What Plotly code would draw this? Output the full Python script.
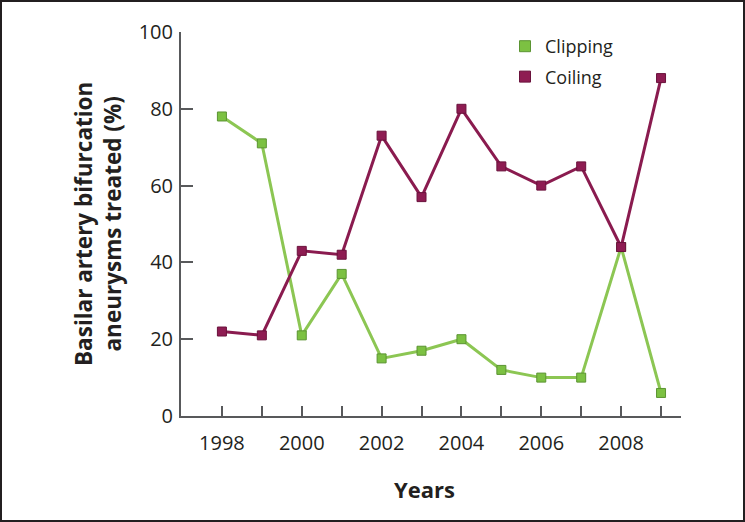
import plotly.graph_objects as go

years = [1998, 1999, 2000, 2001, 2002, 2003, 2004, 2005, 2006, 2007, 2008, 2009]
clipping = [78, 71, 21, 37, 15, 17, 20, 12, 10, 10, 44, 6]
coiling = [22, 21, 43, 42, 73, 57, 80, 65, 60, 65, 44, 88]
tick_years = years
tick_text = [str(y) if y % 2 == 0 else "" for y in years]
y_ticks = [0, 20, 40, 60, 80, 100]

green_line = "#8cc653"
green_fill = "#7cc142"
green_edge = "#5b9432"
purple_line = "#8a1b4f"
purple_fill = "#8e1c52"
purple_edge = "#6a123c"

fig = go.Figure()
fig.add_trace(go.Scatter(
    x=years, y=clipping, mode="lines+markers", name="Clipping", showlegend=False,
    line=dict(color=green_line, width=3),
    marker=dict(symbol="square", size=9, color=green_fill, line=dict(color=green_edge, width=1)),
))
fig.add_trace(go.Scatter(
    x=years, y=coiling, mode="lines+markers", name="Coiling", showlegend=False,
    line=dict(color=purple_line, width=3),
    marker=dict(symbol="square", size=9, color=purple_fill, line=dict(color=purple_edge, width=1)),
))
# legend entries (square markers only)
fig.add_trace(go.Scatter(
    x=[None], y=[None], mode="markers", name="Clipping", legendgroup="a",
    marker=dict(symbol="square", size=11, color=green_fill, line=dict(color=green_edge, width=1)),
))
fig.add_trace(go.Scatter(
    x=[None], y=[None], mode="markers", name="Coiling", legendgroup="b",
    marker=dict(symbol="square", size=11, color=purple_fill, line=dict(color=purple_edge, width=1)),
))

L, R, T, B = 181, 64, 32, 106
W, H = 745, 522
pw, ph = W - L - R, H - T - B

fig.update_layout(
    width=W, height=H,
    margin=dict(l=L, r=R, t=T, b=B),
    paper_bgcolor="white", plot_bgcolor="white",
    font=dict(family="Open Sans", color="#231f20"),
    legend=dict(
        x=(505 - L) / pw, y=1 - (28 - T) / ph, xanchor="left", yanchor="top",
        font=dict(size=18, color="#231f20"), tracegroupgap=4,
        bgcolor="rgba(0,0,0,0)",
    ),
    xaxis=dict(
        range=[1996.975, 2009.5], tickvals=tick_years, ticktext=tick_text,
        showline=True, linecolor="#58595b", linewidth=2,
        ticks="inside", ticklen=10, tickwidth=1.5, tickcolor="#58595b",
        tickfont=dict(size=20, color="#231f20"), ticklabelstandoff=8,
        showgrid=False, zeroline=False, fixedrange=True,
    ),
    yaxis=dict(
        range=[0, 100], tickvals=y_ticks,
        showline=True, linecolor="#58595b", linewidth=2,
        ticks="inside", ticklen=12, tickwidth=1.5, tickcolor="#58595b",
        tickfont=dict(size=20, color="#231f20"), ticklabelstandoff=2,
        showgrid=False, zeroline=False, fixedrange=True,
    ),
    annotations=[
        dict(text="Years", xref="paper", yref="paper",
             x=(424 - L) / pw, y=-(489 - (T + ph)) / ph,
             xanchor="center", yanchor="middle", showarrow=False,
             font=dict(size=22, color="#231f20", family="Open Sans", weight="bold")),
        dict(text="Basilar artery bifurcation<br>aneurysms treated (%)",
             xref="paper", yref="paper",
             x=(98 - L) / pw, y=0.5, textangle=-90,
             xanchor="center", yanchor="middle", showarrow=False,
             font=dict(size=22.5, color="#231f20", family="Open Sans", weight="bold")),
    ],
    shapes=[
        dict(type="rect", xref="paper", yref="paper",
             x0=(1 - L) / pw, x1=(W - 1 - L) / pw,
             y0=-(B - 1) / ph, y1=1 + (T - 1) / ph,
             line=dict(color="#231f20", width=2), fillcolor="rgba(0,0,0,0)", layer="below"),
    ],
)

fig.write_html("out.html", config={"displayModeBar": False},
               post_script="document.body.style.margin='0';")
